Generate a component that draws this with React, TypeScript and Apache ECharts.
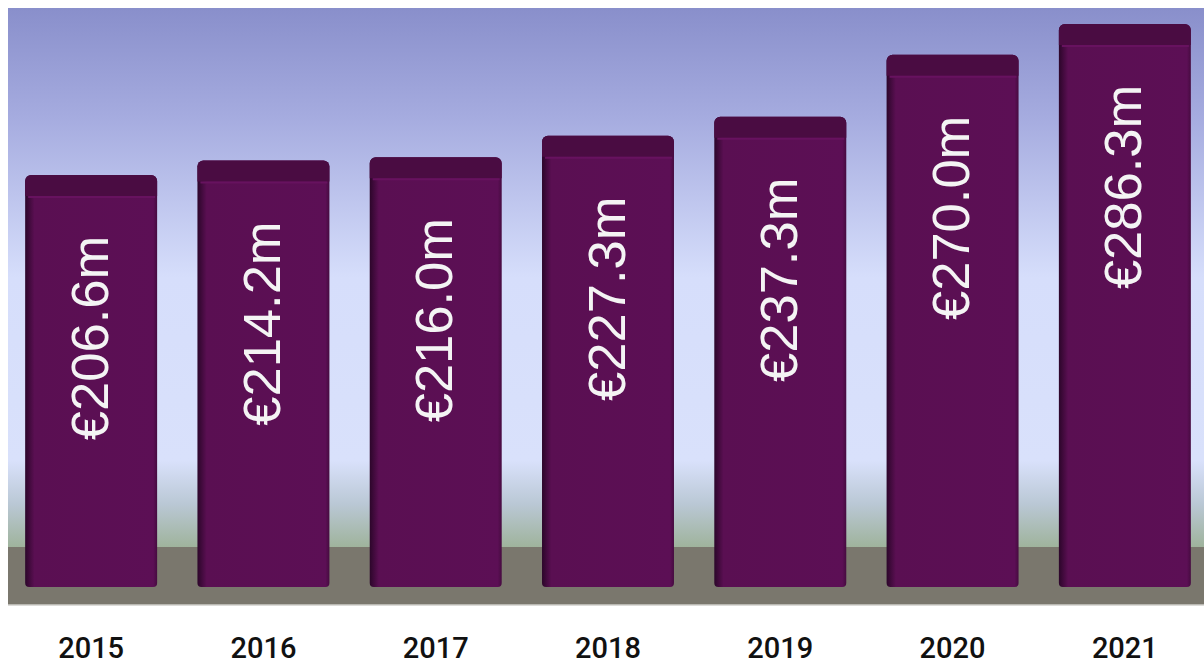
import React, { useEffect, useRef } from "react";
import * as echarts from "echarts";

const years = ["2015", "2016", "2017", "2018", "2019", "2020", "2021"];
const revenue = [206.6, 214.2, 216.0, 227.3, 237.3, 270.0, 286.3];
const valueLabels = ["€206.6m", "€214.2m", "€216.0m", "€227.3m", "€237.3m", "€270.0m", "€286.3m"];

const Y_MIN = -10.8;
const Y_MAX = 294.7;

export default function App() {
  const ref = useRef<HTMLDivElement>(null);
  useEffect(() => {
    if (!ref.current) return;
    const chart = echarts.init(ref.current, null, { renderer: "svg" });
    const option: any = {
      animation: false,
      graphic: [
        {
          type: "rect",
          z: -10,
          silent: true,
          shape: { x: 8, y: 8, width: 1196, height: 539 },
          style: {
            fill: new echarts.graphic.LinearGradient(0, 0, 0, 1, [
              { offset: 0, color: "#898fcb" },
              { offset: 0.2, color: "#a5abdf" },
              { offset: 0.5, color: "#d6defb" },
              { offset: 0.84, color: "#d9e1fb" },
              { offset: 0.92, color: "#bac8d5" },
              { offset: 1, color: "#9fb39c" },
            ]),
          },
        },
        {
          type: "rect",
          z: -10,
          silent: true,
          shape: { x: 8, y: 547, width: 1196, height: 58 },
          style: { fill: "#7a776d" },
        },
        {
          type: "rect",
          z: -10,
          silent: true,
          shape: { x: 8, y: 604, width: 1196, height: 1.5 },
          style: { fill: "#b9b8b2" },
        },
      ],
      grid: {
        left: 5,
        top: 8,
        width: 1206,
        height: 579,
        containLabel: false,
        outerBoundsMode: "none",
      },
      xAxis: {
        type: "category",
        data: years,
        axisLine: { show: false },
        axisTick: { show: false },
        axisLabel: {
          color: "#111111",
          fontSize: 29,
          lineHeight: 29,
          fontFamily: "Roboto",
          fontWeight: 500,
          margin: 46,
        },
      },
      yAxis: {
        type: "value",
        min: Y_MIN,
        max: Y_MAX,
        show: false,
        splitLine: { show: false },
      },
      series: [
        {
          type: "custom",
          clip: false,
          data: revenue.map((v, i) => [i, v]),
          renderItem: (params: any, api: any) => {
            const i = api.value(0);
            const v = api.value(1);
            const top = api.coord([i, v]);
            const bottom = api.coord([i, Y_MIN]);
            const band = api.size([1, 0])[0];
            const w = band * 0.766;
            const x = top[0] - w / 2;
            const y = top[1];
            const h = bottom[1] - y;
            const capH = 21;
            return {
              type: "group",
              children: [
                {
                  type: "rect",
                  shape: { x, y, width: w, height: h, r: [6, 6, 4, 4] },
                  style: {
                    fill: new echarts.graphic.LinearGradient(0, 0, 1, 0, [
                      { offset: 0, color: "#2c062a" },
                      { offset: 0.07, color: "#5a0f52" },
                      { offset: 0.97, color: "#5c0f55" },
                      { offset: 1, color: "#460b40" },
                    ]),
                  },
                },
                {
                  type: "rect",
                  shape: { x, y, width: w, height: capH, r: [6, 6, 0, 0] },
                  style: { fill: "#4a0c42" },
                },
                {
                  type: "rect",
                  shape: { x: x + 3, y: y + capH, width: w - 5, height: 2 },
                  style: { fill: "#67125f" },
                },
                {
                  type: "text",
                  x: top[0] - 2,
                  y: y + 60 + 103,
                  rotation: Math.PI / 2,
                  style: {
                    text: valueLabels[i],
                    fill: "#f4f4f4",
                    font: "52.5px 'Liberation Sans', Arial, sans-serif",
                    align: "center",
                    verticalAlign: "middle",
                  },
                },
              ],
            };
          },
        },
      ],
    };
    chart.setOption(option);
    return () => chart.dispose();
  }, []);
  return (
    <div
      ref={ref}
      style={{ position: "absolute", left: 0, top: 0, width: 1204, height: 664 }}
    />
  );
}
